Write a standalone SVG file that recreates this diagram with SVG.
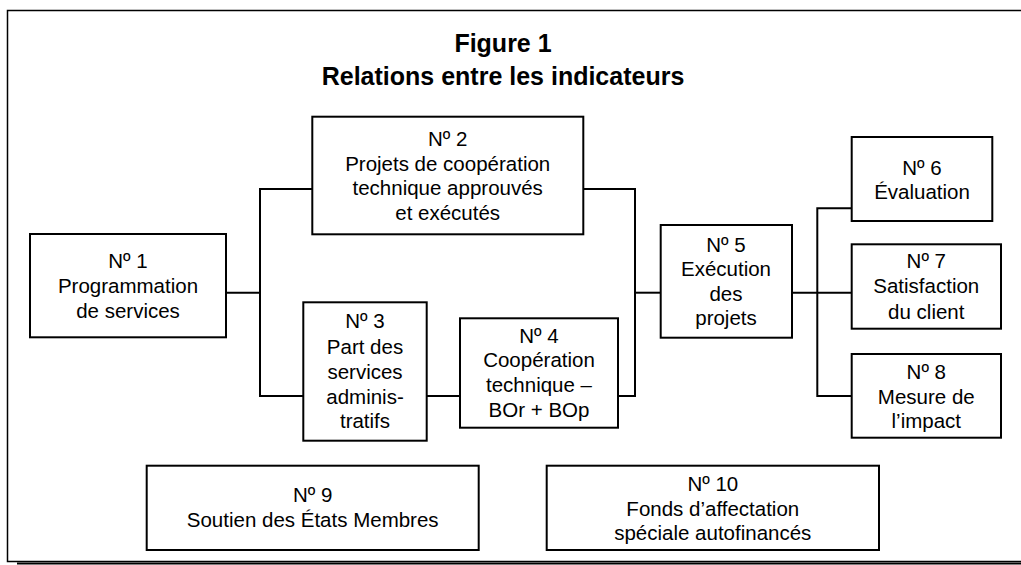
<svg xmlns="http://www.w3.org/2000/svg" width="1021" height="565" viewBox="0 0 1021 565">
<style>
.box{fill:#fff;stroke:#000;stroke-width:2}
.t{font-family:"Liberation Sans",Arial,sans-serif;font-size:20.5px;fill:#000;text-anchor:middle}
.title{font-family:"Liberation Sans",Arial,sans-serif;font-size:25px;font-weight:bold;fill:#000;text-anchor:middle}
.c{fill:none;stroke:#000;stroke-width:2}
</style>
<rect x="0" y="0" width="1021" height="565" fill="#fff"/>
<g id="frame">
<line x1="17" y1="563.5" x2="1021" y2="563.5" stroke="#000" stroke-width="2"/>
<rect x="7.5" y="10.5" width="1020" height="551" fill="none" stroke="#000" stroke-width="1.5"/>
</g>
<g id="title">
<text class="title" x="503" y="52">Figure 1</text>
<text class="title" x="503" y="85">Relations entre les indicateurs</text>
</g>
<g id="connectors">
<polyline class="c" points="226,292.7 260,292.7"/>
<polyline class="c" points="312,189 260,189 260,396 303.3,396"/>
<polyline class="c" points="426.7,396 460,396"/>
<polyline class="c" points="583,189 635,189 635,396 618,396"/>
<polyline class="c" points="635,292.7 660.7,292.7"/>
<polyline class="c" points="792,292.7 851.7,292.7"/>
<polyline class="c" points="851.7,208.3 817.3,208.3 817.3,396 851.7,396"/>
</g>
<g id="n1">
<rect class="box" x="30" y="234" width="196" height="103.3"/>
<text class="t" x="128" y="268.3">Nº 1</text>
<text class="t" x="128" y="293.3">Programmation</text>
<text class="t" x="128" y="317.7">de services</text>
</g>
<g id="n2">
<rect class="box" x="312.3" y="116.7" width="271" height="117.6"/>
<text class="t" x="447.7" y="145.7">Nº 2</text>
<text class="t" x="447.7" y="170.7">Projets de coopération</text>
<text class="t" x="447.7" y="195">technique approuvés</text>
<text class="t" x="447.7" y="220">et exécutés</text>
</g>
<g id="n3">
<rect class="box" x="303.3" y="302.3" width="123.4" height="138.4"/>
<text class="t" x="365" y="328.3">Nº 3</text>
<text class="t" x="365" y="354">Part des</text>
<text class="t" x="365" y="379">services</text>
<text class="t" x="365" y="404">adminis-</text>
<text class="t" x="365" y="428.3">tratifs</text>
</g>
<g id="n4">
<rect class="box" x="460" y="318.3" width="158" height="109.4"/>
<text class="t" x="539" y="342.7">Nº 4</text>
<text class="t" x="539" y="367.3">Coopération</text>
<text class="t" x="539" y="391.7">technique –</text>
<text class="t" x="539" y="416.7">BOr + BOp</text>
</g>
<g id="n5">
<rect class="box" x="660.7" y="225" width="131.3" height="112.7"/>
<text class="t" x="726" y="251.7">Nº 5</text>
<text class="t" x="726" y="276">Exécution</text>
<text class="t" x="726" y="300.7">des</text>
<text class="t" x="726" y="325">projets</text>
</g>
<g id="n6">
<rect class="box" x="851.7" y="137" width="140.6" height="84"/>
<text class="t" x="922" y="175">Nº 6</text>
<text class="t" x="922" y="199">Évaluation</text>
</g>
<g id="n7">
<rect class="box" x="851.7" y="244.3" width="149.3" height="84.4"/>
<text class="t" x="926.3" y="268.3">Nº 7</text>
<text class="t" x="926.3" y="293.3">Satisfaction</text>
<text class="t" x="926.3" y="319">du client</text>
</g>
<g id="n8">
<rect class="box" x="851.7" y="354" width="149.3" height="83.7"/>
<text class="t" x="926.3" y="379">Nº 8</text>
<text class="t" x="926.3" y="404">Mesure de</text>
<text class="t" x="926.3" y="428.3">l’impact</text>
</g>
<g id="n9">
<rect class="box" x="146.7" y="465.7" width="332" height="84.3"/>
<text class="t" x="312.7" y="502.3">Nº 9</text>
<text class="t" x="312.7" y="527.3">Soutien des États Membres</text>
</g>
<g id="n10">
<rect class="box" x="546.7" y="465.7" width="332.3" height="84.3"/>
<text class="t" x="712.8" y="490.7">Nº 10</text>
<text class="t" x="712.8" y="516">Fonds d’affectation</text>
<text class="t" x="712.8" y="540">spéciale autofinancés</text>
</g>
</svg>
